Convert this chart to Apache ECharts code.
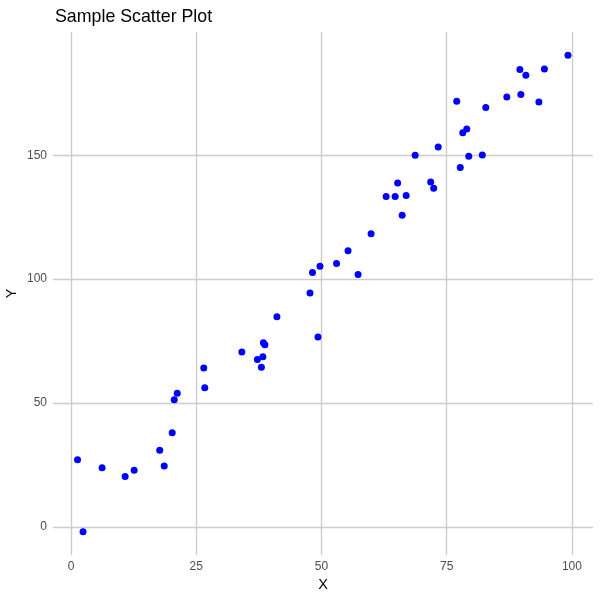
<!DOCTYPE html>
<html>
<head>
<meta charset="utf-8">
<script src="https://cdn.jsdelivr.net/npm/echarts@6/dist/echarts.min.js"></script>
<style>
  html, body { margin: 0; padding: 0; background: #fff; }
  #chart { width: 600px; height: 600px; }
</style>
</head>
<body>
<div id="chart"></div>
<script>
const xValues = [
  1.3, 2.4, 6.2, 10.8, 12.6, 17.7, 18.6, 20.2, 20.6, 21.2,
  26.5, 26.7, 34.1, 37.2, 38.3, 38.0, 38.4, 38.7, 41.1, 47.7,
  48.2, 49.7, 49.3, 53.0, 55.3, 57.3, 59.9, 62.9, 64.7, 65.2,
  66.1, 66.9, 68.7, 71.8, 72.4, 73.3, 77.0, 77.7, 78.2, 79.0,
  79.4, 82.1, 82.8, 87.0, 89.6, 89.8, 90.8, 93.4, 94.5, 99.2,
];
const yValues = [
  27.1, -1.9, 23.9, 20.4, 22.9, 31.0, 24.6, 38.0, 51.3, 54.0,
  64.1, 56.2, 70.6, 67.6, 68.7, 64.4, 74.3, 73.5, 84.8, 94.4,
  102.7, 105.2, 76.6, 106.3, 111.4, 101.9, 118.3, 133.3, 133.3, 138.8,
  125.8, 133.7, 150.0, 139.2, 136.7, 153.3, 171.8, 145.0, 159.1, 160.6,
  149.6, 150.1, 169.2, 173.5, 184.6, 174.5, 182.3, 171.5, 184.8, 190.3,
];
const xTicks = [0, 25, 50, 75, 100];
const yTicks = [0, 50, 100, 150];

const points = xValues.map((x, i) => [x, yValues[i]]);

const chart = echarts.init(document.getElementById("chart"), null, { renderer: "canvas" });

const gridLine = { show: true, lineStyle: { color: "#cccccc", width: 1.4 } };
const tickText = { color: "#4d4d4d", fontSize: 12, fontFamily: "Liberation Sans, Arial, sans-serif" };

chart.setOption({
  animation: false,
  title: {
    text: "Sample Scatter Plot",
    left: 50,
    top: 3,
    textStyle: {
      color: "#000",
      fontSize: 17.8,
      fontWeight: "normal",
      fontFamily: "Liberation Sans, Arial, sans-serif",
    },
  },
  grid: { left: 53, right: 7, top: 32, bottom: 45, containLabel: false, outerBoundsMode: "none" },
  xAxis: {
    type: "value",
    min: -3.6,
    max: 104.2,
    name: "X",
    nameLocation: "middle",
    nameGap: 22,
    nameMoveOverlap: false,
    nameTextStyle: { color: "#000", fontSize: 14.5, fontFamily: "Liberation Sans, Arial, sans-serif" },
    axisLine: { show: false },
    axisTick: { show: false, customValues: xTicks },
    axisLabel: { ...tickText, margin: 6, customValues: xTicks },
    splitLine: gridLine,
  },
  yAxis: {
    type: "value",
    min: -11.3,
    max: 199.7,
    name: "Y",
    nameLocation: "middle",
    nameGap: 34,
    nameMoveOverlap: false,
    nameTextStyle: { color: "#000", fontSize: 14.5, fontFamily: "Liberation Sans, Arial, sans-serif" },
    axisLine: { show: false },
    axisTick: { show: false, customValues: yTicks },
    axisLabel: { ...tickText, margin: 6, customValues: yTicks },
    splitLine: gridLine,
  },
  series: [
    {
      type: "scatter",
      data: points,
      symbolSize: 7,
      itemStyle: { color: "#0000ff", opacity: 1 },
    },
  ],
});
</script>
</body>
</html>
